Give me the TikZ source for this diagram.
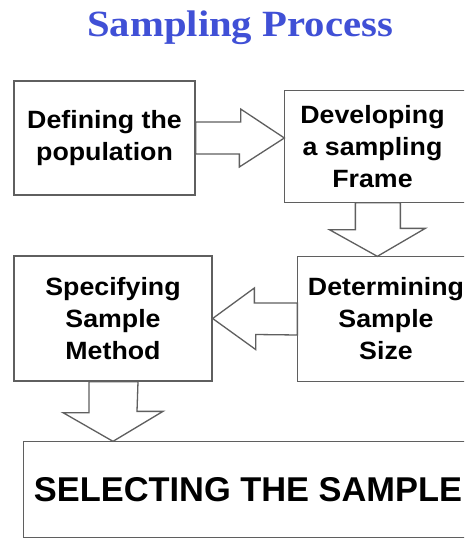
\documentclass[tikz,border=0pt]{standalone}
\usepackage{fontspec}
\usetikzlibrary{calc}
\newfontfamily\bxf[FakeStretch=1.07]{Liberation Sans}
\newfontfamily\bigf{Liberation Sans}
\newfontfamily\ttlf[FakeStretch=1.1]{Liberation Serif}
\definecolor{ttlblue}{RGB}{64,80,214}
\definecolor{edgegray}{RGB}{95,95,95}
\newcommand\mylshift{\hspace*{-12pt}}
\tikzset{
  boxnode/.style={draw=edgegray, line width=1.3pt, fill=white, rectangle, inner sep=0pt,
     align=center, text=black, font=\bxf\bfseries\fontsize{25}{32}\selectfont},
  openbox/.style={boxnode, draw=none},
  openedge/.style={draw=edgegray, line width=1.3pt, line join=miter},
  blockarrow/.style={draw=edgegray, line width=1.3pt, fill=white, line join=miter}
}
\begin{document}
\begin{tikzpicture}[x=1pt,y=-1pt]
\clip (0,0) rectangle (464,540);
\fill[white] (0,0) rectangle (464,540);
\node[anchor=base, text=ttlblue, font=\ttlf\bfseries\fontsize{37}{40}\selectfont] (title) at (240,37) {Sampling Process};
\node[boxnode, minimum width=181pt, minimum height=114pt] (b1) at (104.5,138) {Defining the\\population};
\node[openbox, minimum width=187pt, minimum height=111pt] (b2) at (378.5,146.5) {\mylshift Developing\\\mylshift a sampling\\\mylshift Frame};
\node[openbox, minimum width=176pt, minimum height=124pt] (b3) at (386,319) {Determining\\Sample\\Size};
\node[boxnode, minimum width=198pt, minimum height=125pt] (b4) at (113,318.5) {Specifying\\Sample\\Method};
\node[openbox, minimum width=448pt, minimum height=95pt, font=\bigf\bfseries\fontsize{34.4}{40}\selectfont] (b5) at (248,489.5) {SELECTING THE SAMPLE};
\draw[openedge] (b2.north east) -- (b2.north west) -- (b2.south west) -- (b2.south east);
\draw[openedge] (b3.north east) -- (b3.north west) -- (b3.south west) -- (b3.south east);
\draw[openedge] (b5.north east) -- (b5.north west) -- (b5.south west) -- (b5.south east);
% arrow 1: b1 -> b2
\draw[blockarrow] ($(b1.east)+(0,-16)$) -- ++(45,0) -- ++(0,-13) -- (b1.east -| b2.west) -- ++(-45,29) -- ++(0,-13) -- ($(b1.east)+(0,16)$) -- cycle;
% arrow 2: b2 -> b3
\draw[blockarrow] ($(b2.south west)+(71,0)$) -- ++(0,27) -- ++(-26,0) -- ($(b3.north west)+(80,0)$) -- ++(48,-28) -- ++(-25,0) -- ($(b2.south west)+(116,0)$) -- cycle;
% arrow 3: b3 -> b4
\draw[blockarrow] ($(b3.west)+(0,-16)$) -- ++(-43,0) -- ++(0,-15) -- (b4.east) -- ++(43,31) -- ++(0,-15) -- ($(b3.west)+(0,16)$) -- cycle;
% arrow 4: b4 -> b5
\draw[blockarrow] ($(b4.south)+(-24,0)$) -- ++(0,31) -- ++(-26,0) -- (b4.south |- b5.north) -- ++(50,-30) -- ++(-26,0) -- ($(b4.south)+(25,0)$) -- cycle;
\end{tikzpicture}
\end{document}
